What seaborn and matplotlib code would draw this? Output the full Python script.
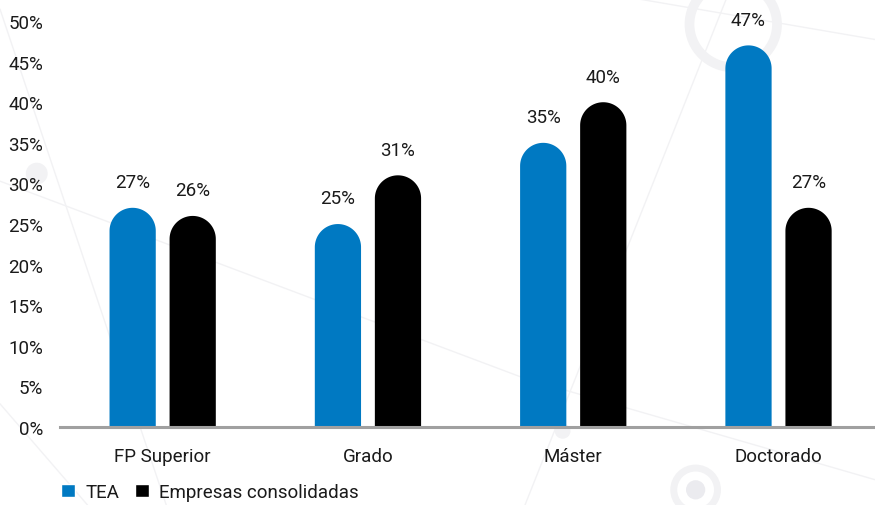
import numpy as np
import pandas as pd
import seaborn as sns
import matplotlib.pyplot as plt
from matplotlib.patches import Ellipse, Polygon
from matplotlib.lines import Line2D

# Data
niveles = ['FP Superior', 'Grado', 'Máster', 'Doctorado']
tea = [27, 25, 35, 47]
consolidadas = [26, 31, 40, 27]
series = ['TEA', 'Empresas consolidadas']
colores = ['#0079c2', '#000000']

df = pd.DataFrame({
    'nivel': niveles * 2,
    'valor': tea + consolidadas,
    'serie': [series[0]] * 4 + [series[1]] * 4,
})

sns.set_style('white')
plt.rcParams['font.family'] = ['Roboto', 'DejaVu Sans']
fs = 13.5
txt = '#1a1a1a'

fig = plt.figure(figsize=(8.75, 5.06), dpi=100)

# faint decorative background (circles and lines)
deco = '#f2f2f4'
for (x0, y0, x1, y1) in [(0.0, 0.98, 0.19, 0.0), (0.0, 0.64, 0.6, 0.25), (0.6, 0.25, 1.0, 0.05),
                         (0.83, 1.0, 0.6, 0.0), (0.73, 1.0, 1.0, 0.92), (0.0, 0.2, 0.1, 0.0)]:
    fig.add_artist(Line2D([x0, x1], [y0, y1], transform=fig.transFigure, color=deco, lw=1.0, zorder=0))
fig.add_artist(Ellipse((0.838, 0.95), 0.1, 0.17, transform=fig.transFigure, fill=False,
                       ec=deco, lw=7, zorder=0))
fig.add_artist(Ellipse((0.042, 0.655), 0.025, 0.043, transform=fig.transFigure, fc=deco, ec='none', zorder=0))
fig.add_artist(Ellipse((0.643, 0.146), 0.018, 0.03, transform=fig.transFigure, fc=deco, ec='none', zorder=0))
fig.add_artist(Ellipse((0.795, 0.03), 0.05, 0.086, transform=fig.transFigure, fill=False, ec=deco, lw=5, zorder=0))
fig.add_artist(Ellipse((0.795, 0.03), 0.022, 0.038, transform=fig.transFigure, fc='#ebebef', ec='none', zorder=0))

ax = fig.add_axes([0.0686, 0.154, 0.9314, 0.8025])
ax.patch.set_alpha(0)

sns.barplot(data=df, x='nivel', y='valor', hue='serie', palette=colores,
            width=0.585, gap=0.23, legend=False, ax=ax, saturation=1)

ax.set_ylim(0, 50)
ax.set_xlim(-0.5, 3.47)
ax.set_yticks(range(0, 51, 5))
ax.set_yticklabels([f'{v}%' for v in range(0, 51, 5)])
ax.tick_params(axis='y', length=0, pad=12, labelsize=fs, labelcolor=txt)
ax.tick_params(axis='x', length=0, pad=14, labelsize=fs, labelcolor=txt)
ax.set_xlabel('')
ax.set_ylabel('')
for s in ['top', 'right', 'left']:
    ax.spines[s].set_visible(False)
ax.spines['bottom'].set_color('#a0a0a0')
ax.spines['bottom'].set_linewidth(2.2)
ax.spines['bottom'].set_zorder(5)

# rounded tops: redraw each seaborn bar as one outline with a half-circle cap
fig.canvas.draw()
px_x = ax.transData.transform((1, 0))[0] - ax.transData.transform((0, 0))[0]
px_y = ax.transData.transform((0, 1))[1] - ax.transData.transform((0, 0))[1]
t = np.linspace(0, np.pi, 60)
for bar in list(ax.patches):
    w = bar.get_width()
    h = bar.get_height()
    x0 = bar.get_x()
    xc = x0 + w / 2
    col = bar.get_facecolor()
    r_y = (w * px_x / 2) / px_y
    arc_x = xc + (w / 2) * np.cos(t)
    arc_y = (h - r_y) + r_y * np.sin(t)
    pts = np.column_stack([np.r_[x0 + w, arc_x, x0], np.r_[0, arc_y, 0]])
    ax.add_patch(Polygon(pts, closed=True, fc=col, ec='none', zorder=bar.get_zorder()))
    bar.set_visible(False)
    ax.annotate(f'{h:.0f}%', (xc, h), xytext=(0, 12), textcoords='offset points',
                ha='center', va='bottom', fontsize=fs, color=txt, annotation_clip=False)

handles = [plt.Rectangle((0, 0), 1, 1, fc=c) for c in colores]
fig.legend(handles, series, loc='lower left', bbox_to_anchor=(0.068, 0.004), ncol=2, frameon=False,
           fontsize=fs, handlelength=0.75, handleheight=0.75, handletextpad=0.55, columnspacing=0.8,
           borderaxespad=0, borderpad=0.1, labelcolor=txt)

plt.savefig('out.png', dpi=100)
